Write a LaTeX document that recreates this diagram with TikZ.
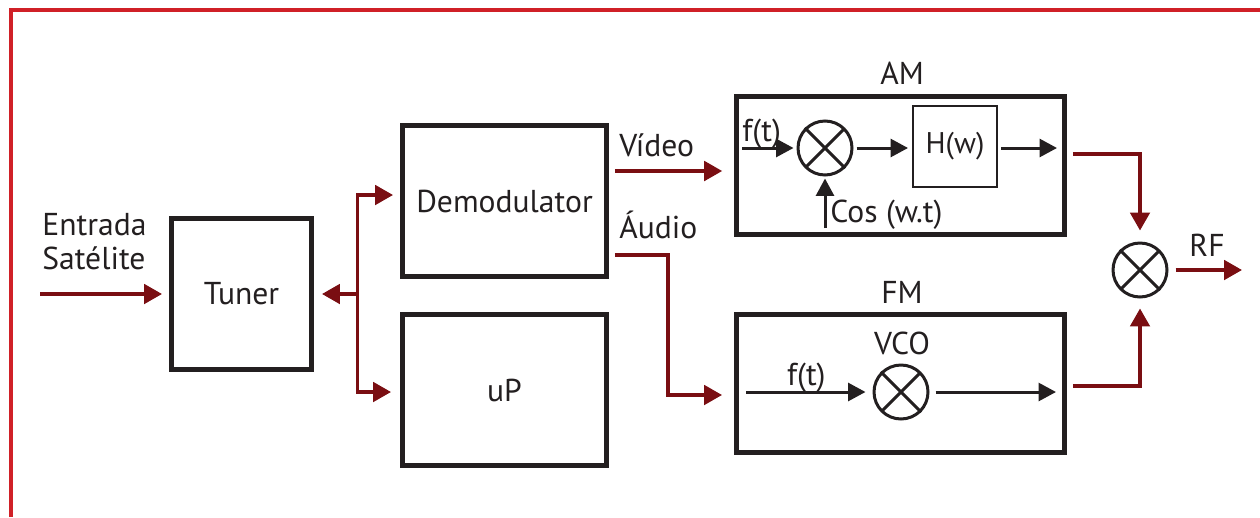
\documentclass[tikz,border=0pt]{standalone}
\usepackage{fontspec}
\setmainfont{PT Sans}
\usetikzlibrary{arrows.meta, positioning}
\definecolor{framered}{RGB}{208, 32, 39}
\definecolor{wirered}{RGB}{122, 14, 18}
\definecolor{inkgray}{RGB}{35, 31, 32}
\tikzset{
  block/.style={
    draw=inkgray,
    line width=1mm,
    inner sep=0pt,
    text=inkgray,
    font=\fontsize{18}{19}\selectfont
  },
  mixer/.style={
    circle,
    draw=inkgray,
    line width=0.6mm,
    minimum size=1.08cm,
    inner sep=0pt
  },
  tag/.style={
    inner sep=0pt,
    text=inkgray,
    font=\fontsize{18}{19}\selectfont
  },
  redwire/.style={
    draw=wirered,
    line width=0.7mm,
    >={Triangle[length=3.6mm, width=3.9mm]}
  },
  blackwire/.style={
    draw=inkgray,
    line width=0.6mm,
    >={Triangle[length=3.5mm, width=3.6mm]}
  }
}

\begin{document}
\begin{tikzpicture}[x=0.02cm, y=-0.02cm]
          \useasboundingbox (0, 0) rectangle (1260, 517);
          \draw[framered, line width=0.8mm] (11, 517) -- (11, 10.5) -- (1260, 10.5);

          % blocks
          \node[block, minimum width=2.8cm, minimum height=3.02cm] (tuner) at (241.5, 294) {Tuner};
          \node[block, minimum width=4.1cm, minimum height=3.03cm] (demod) at (504.5, 201) {Demodulator};
          \node[block, minimum width=4.1cm, minimum height=3.03cm] (up) at (504.5, 390) {uP};
          \node[block, minimum width=6.56cm, minimum height=2.76cm] (am) at (900.5, 165.5) {};
          \node[block, minimum width=6.56cm, minimum height=2.76cm] (fm) at (900.5, 383.5) {};
          \node[block, line width=0.4mm, minimum width=1.68cm, minimum height=1.62cm,
                font=\fontsize{17}{19}\selectfont] (hw) at (955, 146.5) {H(w)};
          \node[mixer] (mixam) at (825, 148) {};
          \node[mixer] (mixfm) at (901, 392) {};
          \node[mixer] (mixrf) at (1140, 270) {};
          \foreach \m in {mixam, mixfm, mixrf}
            \draw[inkgray, line width=0.6mm, shorten <=0.3mm, shorten >=0.3mm]
              (\m.north west) -- (\m.south east) (\m.north east) -- (\m.south west);

          % labels
          \node[tag, anchor=south west, align=left] (satlabel) at (42, 270) {Entrada\\Satélite};
          \node[tag, anchor=base west] (vidlabel) at (619, 156) {Vídeo};
          \node[tag, anchor=base west] (audlabel) at (619, 238.3) {Áudio};
          \node[tag, anchor=base] (amlabel) at (902, 85) {AM};
          \node[tag, anchor=base] (fmlabel) at (902, 303.3) {FM};
          \node[tag, anchor=base west] (ftamlabel) at (742, 141) {f(t)};
          \node[tag, anchor=base west] (coslabel) at (830, 222.7) {Cos (w.t)};
          \node[tag, anchor=base] (vcolabel) at (902, 354.3) {VCO};
          \node[tag, anchor=base west] (ftfmlabel) at (786.7, 385.7) {f(t)};
          \node[tag, anchor=base] (rflabel) at (1207, 256.7) {RF};

          % free ends
          \coordinate (satin) at (40, 294);
          \coordinate (split) at (357.5, 294);
          \coordinate (rfout) at (1242, 270);
          \coordinate (ftamin) at (742, 148);
          \coordinate (amend) at (1057, 148);
          \coordinate (cosin) at (825, 228);
          \coordinate (ftfmin) at (746, 392);
          \coordinate (fmend) at (1056, 392);

          % red signal paths
          \draw[redwire, ->, shorten >=1.4mm] (satin) -- (tuner);
          \draw[redwire, ->, shorten >=1.6mm] (split) -- (tuner);
          \draw[redwire, <->, shorten <=1.3mm, shorten >=1.7mm]
            ([yshift=1.2mm]demod.west) -| (split) |- ([yshift=-0.4mm]up.west);
          \draw[redwire, ->, shorten <=1.1mm] ([yshift=6mm]demod.east) -- ++(112.7, 0);
          \draw[redwire, ->, shorten <=1.1mm, shorten >=2.4mm]
            ([yshift=-10.8mm]demod.east) -- ++(58.4, 0) |- ([yshift=-2.3mm]fm.west);
          \draw[redwire, ->, shorten <=1.2mm, shorten >=2.2mm] ([yshift=2.3mm]am.east) -| (mixrf.north);
          \draw[redwire, ->, shorten <=1.2mm, shorten >=2mm] ([yshift=-0.5mm]fm.east) -| (mixrf.south);
          \draw[redwire, ->, shorten <=1.4mm] (mixrf) -- (rfout);

          % AM and FM insides
          \draw[blackwire, ->, shorten >=0.6mm] (ftamin) -- (mixam);
          \draw[blackwire, ->, shorten <=0.6mm, shorten >=0.8mm] (mixam) -- (hw.west |- mixam);
          \draw[blackwire, ->, shorten <=0.6mm] (hw.east |- mixam) -- (amend);
          \draw[blackwire, ->, shorten >=0.4mm] (cosin) -- (mixam);
          \draw[blackwire, ->, shorten >=1.4mm] (ftfmin) -- (mixfm);
          \draw[blackwire, ->, shorten <=1.2mm] (mixfm) -- (fmend);
        \end{tikzpicture}
\end{document}
